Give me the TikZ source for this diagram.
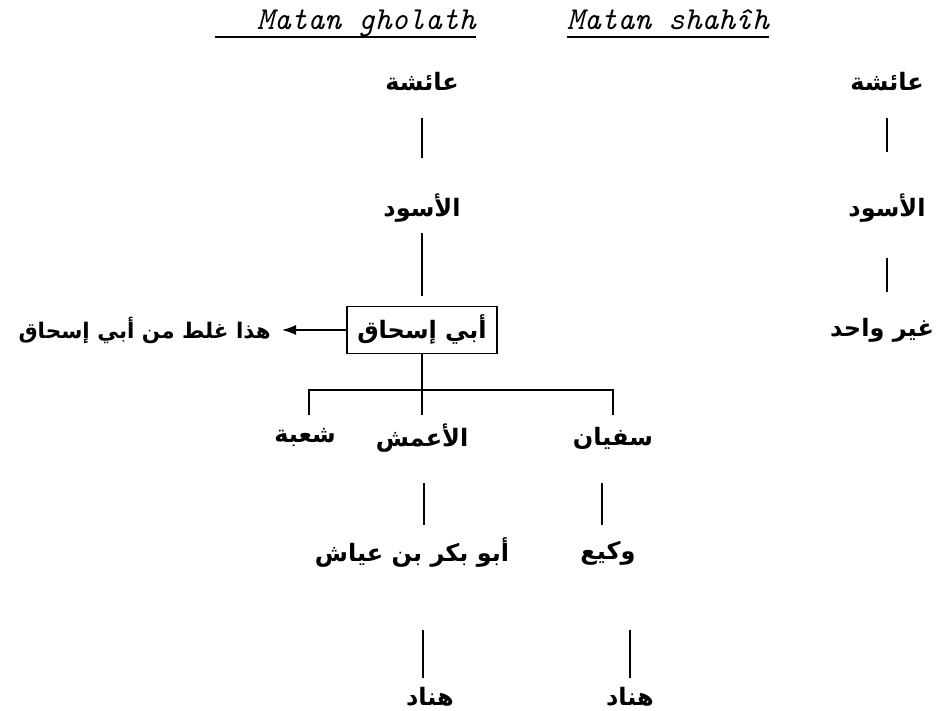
\documentclass[tikz,border=0pt]{standalone}
\usepackage{fontspec}
\TeXXeTstate=1
\newfontfamily\arabicfont[Script=Arabic]{DejaVu Sans}
\usetikzlibrary{arrows.meta}
\begin{document}
\begin{tikzpicture}[x=1pt,y=-1pt,
  ar/.style={font=\arabicfont\bfseries\fontsize{24}{28}\selectfont, inner sep=0pt},
  link/.style={line width=1.3pt},
  ttl/.style={font=\ttfamily\itshape\fontsize{32}{36}\selectfont, inner sep=0pt, anchor=base west},
  uline/.style={line width=1.8pt}]
\useasboundingbox (0,0) rectangle (936,711);
% titles
\node[ttl] (t1) at (215,30) {\hspace*{42pt}Matan gholath};
\draw[uline] ([yshift=-7pt]t1.base west) -- ([yshift=-7pt]t1.base east);
\node[ttl] (t2) at (567,30) {Matan shahîh};
\draw[uline] ([yshift=-7pt]t2.base west) -- ([yshift=-7pt]t2.base east);
% left chain
\node[ar] (a1) at (422,82) {\beginR عائشة\endR};
\node[ar] (a2) at (422,208) {\beginR الأسود\endR};
\node[ar, draw, line width=1.2pt, minimum width=150pt, minimum height=47pt] (box) at (422,330) {\beginR أبي إسحاق\endR};
\node[ar, anchor=east, font=\arabicfont\bfseries\fontsize{21.5}{26}\selectfont] (note) at (271,330) {\beginR هذا غلط من أبي إسحاق\endR};
\draw[link, shorten <=36pt, shorten >=50pt] (a1.center) -- (a2.center);
\draw[link, shorten <=25pt, shorten >=10pt] (a2.center) -- (box.north);
\draw[link, -{Latex[length=14pt,width=10pt]}, shorten >=11pt] (box.west) -- (note.east);
% branching
\node[ar] (shu) at (305,438) {\beginR شعبة\endR};
\node[ar] (ama) at (422,438) {\beginR الأعمش\endR};
\node[ar] (suf) at (613,438) {\beginR سفيان\endR};
\coordinate (j) at (422,390);
\coordinate (dl) at (309,415);
\coordinate (dr) at (613,415);
\draw[link] (box.south) -- (j);
\draw[link] (dl) |- (j) -| (dr);
\draw[link, shorten >=23pt] (j) -- (ama.center);
% lower levels
\node[ar] (abu) at (412,553) {\beginR أبو بكر بن عياش\endR};
\node[ar] (wak) at (608,553) {\beginR وكيع\endR};
\node[ar] (hn1) at (430,697) {\beginR هناد\endR};
\node[ar] (hn2) at (630,697) {\beginR هناد\endR};
\draw[link, shorten <=45pt, shorten >=28pt] ([xshift=2pt]ama.center) -- ([xshift=2pt]ama.center |- abu.center);
\draw[link, shorten <=45pt, shorten >=28pt] ([xshift=-11pt]suf.center) -- ([xshift=-11pt]suf.center |- wak.center);
\draw[link, shorten <=77pt, shorten >=19pt] ([xshift=-7pt]hn1.center |- abu.center) -- ([xshift=-7pt]hn1.center);
\draw[link, shorten <=77pt, shorten >=19pt] (hn2.center |- wak.center) -- (hn2.center);
% right chain
\node[ar] (r1) at (887,82) {\beginR عائشة\endR};
\node[ar] (r2) at (887,208) {\beginR الأسود\endR};
\node[ar] (r3) at (882,330) {\beginR غير واحد\endR};
\draw[link, shorten <=36pt, shorten >=56pt] (r1.center) -- (r2.center);
\draw[link, shorten <=50pt, shorten >=38pt] (r2.center) -- (r2.center |- r3.center);
\end{tikzpicture}
\end{document}
